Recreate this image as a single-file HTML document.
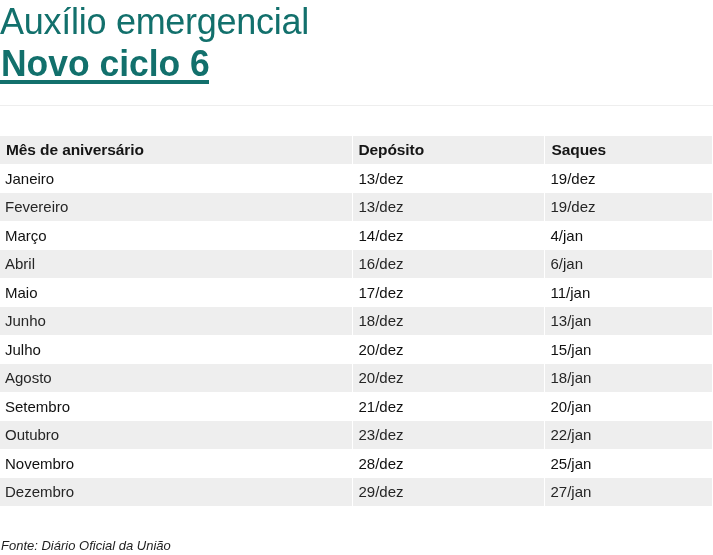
<!DOCTYPE html>
<html lang="pt-BR">
<head>
<meta charset="utf-8">
<title>Auxílio emergencial - Novo ciclo 6</title>
<style>
  html, body { margin: 0; padding: 0; background: #fff; }
  body { width: 713px; height: 555px; overflow: hidden; position: relative;
         font-family: "Liberation Sans", "DejaVu Sans", sans-serif; }
  .t1 { position: absolute; left: 0; top: 1px; margin: 0; white-space: nowrap;
        color: #12706c; font-size: 36px; font-weight: normal; line-height: 42px; letter-spacing: -0.27px; }
  .t2 { position: absolute; left: 0.6px; top: 43px; margin: 0; white-space: nowrap;
        color: #12706c; font-size: 37px; font-weight: bold; line-height: 42px;
        transform: scaleX(0.958); transform-origin: 0 0; }
  .ul { position: absolute; left: 0; top: 80px; width: 209px; height: 4px; background: #12706c; }
  .hr { position: absolute; left: 0; top: 105px; width: 713px; height: 1px; background: #eeeeee; }
  table { position: absolute; left: 0; top: 136px; width: 712px; border-collapse: collapse;
          table-layout: fixed; color: #151515; font-size: 15px; }
  td, th { padding: 0; height: 28.5px; box-sizing: border-box; text-align: left;
           border-left: 1px solid #fff; border-right: 1px solid #fff; }
  th { font-weight: bold; height: 28px; padding-bottom: 0px; font-size: 15.5px; letter-spacing: -0.1px; }
  th:first-child { padding-left: 6px !important; }
  th:nth-child(3) { padding-left: 7px !important; }
  tr.g td, tr.g th { background: #eeeeee; }
  tbody tr td { color: #111; }
  tbody tr.g td { color: #262626; }
  td:first-child, th:first-child { border-left: 0; padding-left: 5px; }
  td:nth-child(2), th:nth-child(2) { padding-left: 6px; }
  td:nth-child(3), th:nth-child(3) { padding-left: 6px; border-right: 0; }
  .src { position: absolute; left: 1px; top: 538px; margin: 0; font-style: italic; font-size: 13px;
         color: #1e1e1e; white-space: nowrap; }
</style>
</head>
<body>
<h1 class="t1">Auxílio emergencial</h1>
<h2 class="t2">Novo ciclo 6</h2>
<div class="ul"></div>
<div class="hr"></div>
<table>
  <colgroup><col style="width:352px"><col style="width:192px"><col style="width:168px"></colgroup>
  <thead>
    <tr class="g"><th>Mês de aniversário</th><th>Depósito</th><th>Saques</th></tr>
  </thead>
  <tbody>
    <tr><td>Janeiro</td><td>13/dez</td><td>19/dez</td></tr>
    <tr class="g"><td>Fevereiro</td><td>13/dez</td><td>19/dez</td></tr>
    <tr><td>Março</td><td>14/dez</td><td>4/jan</td></tr>
    <tr class="g"><td>Abril</td><td>16/dez</td><td>6/jan</td></tr>
    <tr><td>Maio</td><td>17/dez</td><td>11/jan</td></tr>
    <tr class="g"><td>Junho</td><td>18/dez</td><td>13/jan</td></tr>
    <tr><td>Julho</td><td>20/dez</td><td>15/jan</td></tr>
    <tr class="g"><td>Agosto</td><td>20/dez</td><td>18/jan</td></tr>
    <tr><td>Setembro</td><td>21/dez</td><td>20/jan</td></tr>
    <tr class="g"><td>Outubro</td><td>23/dez</td><td>22/jan</td></tr>
    <tr><td>Novembro</td><td>28/dez</td><td>25/jan</td></tr>
    <tr class="g"><td>Dezembro</td><td>29/dez</td><td>27/jan</td></tr>
  </tbody>
</table>
<p class="src">Fonte: Diário Oficial da União</p>
</body>
</html>
